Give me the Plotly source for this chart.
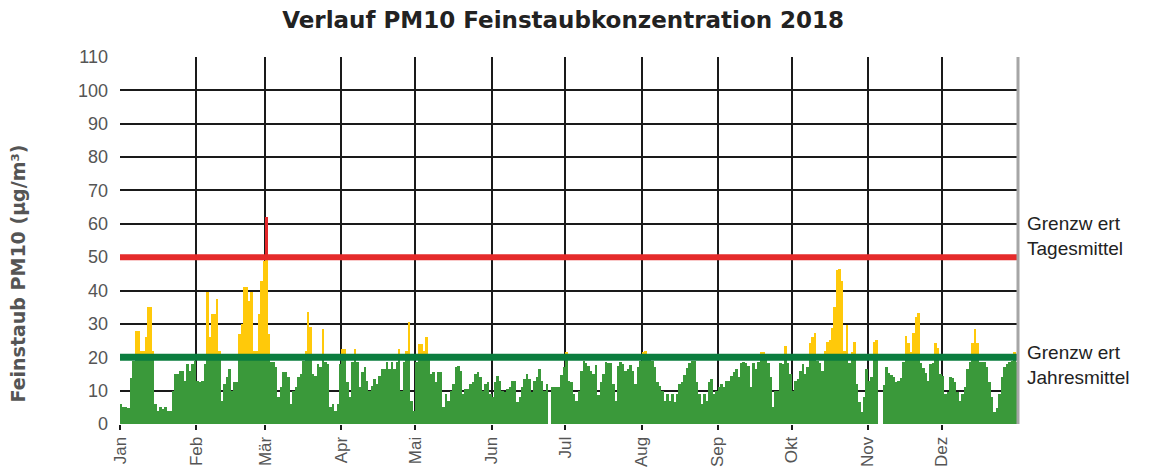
import plotly.graph_objects as go

# Daily PM10 means 2018 (µg/m³), None = no measurement
jan = [6, 5, 5, 4.7, 13.7, 19, 28, 28, 22, 22, 26, 35, 35, 22, 6, 4, 5, 4.5, 5, 4, 4, 10, 15, 15, 16, 16, 13, 18, 16, 18, 19]
feb = [13, 12.5, 13, 18, 39.5, 26, 33, 33, 37.5, 22, 7, 12, 14, 16.5, 10, 12.5, 12.5, 27, 30, 41, 41, 37, 39.5, 22, 22, 33, 43, 49]
mar = [62, 27, 18.5, 18.5, 17, 8, 11, 15.5, 15.5, 14, 6, 10, 11, 14, 15, 19, 22, 33.5, 29, 15, 14.5, 18, 17, 28.5, 18.5, 18, 5, 6, 4, 6, 18]
apr = [22.5, 22.5, 12.7, 8, 18.5, 22.5, 18.5, 11, 15.5, 17, 13, 10, 11.5, 13.5, 12, 14.5, 16.5, 16.5, 18.5, 16.5, 18.5, 16.5, 18.5, 22.5, 10, 18.5, 22, 30.5, 7, 4]
mai = [18.5, 24, 24, 22, 26, 20, 15, 15.5, 12.7, 15.5, 15.5, 5, 9, 7, 10, 12, 17, 17.5, 16, 9, 10.5, 10.5, 12, 12.7, 15, 15.5, 14, 10, 12, 12.7, 9]
jun = [8, 12.7, 14.5, 13, 10, 9.7, 10.5, 11, 13, 13, 6.5, 8, 11, 13.5, 15, 13.5, 9.7, 13, 14, 16.4, 13, 10, 12, None, 11, 11, 11, 11, 14.7, 17]
jul = [21.5, 13, 12.7, 9, 7, 10, 16, 19, 18.4, 17.5, 16, 15, 17.7, 8.7, 12.5, 15, 18.5, 18.3, 18.4, 12, 7, 17.5, 18.5, 18, 16, 16.5, 17.7, 16, 12, 17, 19]
aug = [21.7, 22, 20, 19.5, 19, 17, 12.5, 11.5, 10, 7, 9, 7, 9, 6.7, 9, 12, 12.5, 14.7, 16.7, 18.4, 19, 19, 12.5, 9, 6, 9, 7, 12.5, 13.5, 9, 10]
sep = [11, 12, 11, 13, 13, 14.5, 15.5, 16.5, 14, 18.4, 18.7, 18.4, 17.5, 11, 18.4, 16.5, 18.5, 21.7, 21.7, 20, 18.4, 14, 5, 10, 10, 18.4, 18, 23.4, 18.4, 15]
okt = [10, 13, 13.5, 16, 18, 15, 17, 24.4, 26.2, 27.4, 19, 18.4, 16, 22, 24.5, 25.2, 28.7, 35, 46.2, 46.5, 43, 22, 29.7, 18.4, 21.7, 24.7, 12, 6.7, 3.5, 8, 16.5]
nov = [13, 14, 24.7, 25.2, None, None, 11.7, 17.2, 15.2, 14.7, 14, 12.5, 13, 13.7, 18.7, 26.4, 24.2, 21.7, 27.2, 32.2, 33.4, 18.4, 16.7, 15.2, 13, 18, 18.4, 24.2, 22.7, 15]
dez = [14.5, 9, 9.5, 14, 13.7, 12.5, 9.5, 7, 9, 11, 16.5, 18.5, 24.4, 28.4, 24.4, 18.5, 18.5, 18.5, 17, 12.5, 8, 3.7, 4.7, 9, 14, 17, 18, 18.5, 19, 21.7, 18.5]

month_labels = ["Jan", "Feb", "Mär", "Apr", "Mai", "Jun", "Jul", "Aug", "Sep", "Okt", "Nov", "Dez"]
months = [jan, feb, mar, apr, mai, jun, jul, aug, sep, okt, nov, dez]

GRENZWERT_TAG = 50
GRENZWERT_JAHR = 20

values = [v for m in months for v in m]
days = [i + 0.5 for i in range(len(values))]
month_starts = []
acc = 0
for m in months:
    month_starts.append(acc)
    acc += len(m)
n_days = acc

green = [None if v is None else min(v, GRENZWERT_JAHR) for v in values]
yellow = [None if v is None else max(0, min(v, GRENZWERT_TAG) - GRENZWERT_JAHR) for v in values]
red = [None if v is None else max(0, v - GRENZWERT_TAG) for v in values]

fig = go.Figure()
fig.add_trace(go.Bar(x=days, y=green, marker=dict(color="#3a993a", line=dict(width=0)), width=1.0))
fig.add_trace(go.Bar(x=days, y=yellow, marker=dict(color="#ffc90a", line=dict(width=0)), width=1.0))
fig.add_trace(go.Bar(x=days, y=red, marker=dict(color="#e3262a", line=dict(width=0)), width=1.0))

fig.add_trace(go.Scatter(x=[0, n_days], y=[GRENZWERT_TAG, GRENZWERT_TAG], mode="lines",
                         line=dict(color="#e52b2b", width=6)))
fig.add_trace(go.Scatter(x=[0, n_days], y=[GRENZWERT_JAHR, GRENZWERT_JAHR], mode="lines",
                         line=dict(color="#0b7d3e", width=7)))

font_family = "Liberation Sans, Arial, sans-serif"
bold_family = "DejaVu Sans, Liberation Sans, sans-serif"
fig.update_layout(
    width=1133, height=459,
    barmode="stack", bargap=0, showlegend=False,
    plot_bgcolor="white", paper_bgcolor="white",
    margin=dict(l=112, r=123, t=49, b=43, autoexpand=False),
    font=dict(family=font_family, color="#555555"),
    title=dict(text="<b>Verlauf PM10 Feinstaubkonzentration 2018</b>", x=0.490, xanchor="center",
               y=1 - 12 / 459, yanchor="middle", font=dict(size=23, color="#222222", family=bold_family)),
    xaxis=dict(range=[0, n_days], tickmode="array", tickvals=month_starts, ticktext=month_labels,
               tickangle=-90, showgrid=True, gridcolor="#1a1a1a", gridwidth=2,
               ticks="outside", ticklen=5, tickwidth=2, tickcolor="#1a1a1a",
               tickfont=dict(size=17, color="#555555"), zeroline=False, showline=False,
               automargin=False),
    yaxis=dict(range=[0, 110], tickmode="array", tickvals=list(range(0, 111, 10)),
               showgrid=True, gridcolor="#1a1a1a", gridwidth=2, zeroline=False,
               tickfont=dict(size=18, color="#555555"), ticks="", ticklabelstandoff=11,
               automargin=False),
    shapes=[dict(type="line", xref="paper", yref="paper", x0=1, x1=1, y0=0, y1=1,
                 line=dict(color="#a6a6a6", width=3))],
    annotations=[
        dict(text="<b>Feinstaub PM10 (µg/m³)</b>", xref="paper", x=0, xshift=-102, xanchor="center",
             yref="paper", y=0.41, yanchor="middle", textangle=-90, showarrow=False,
             font=dict(size=19, color="#555555", family=bold_family)),
        dict(text="Grenzw ert<br>Tagesmittel", xref="paper", x=1, xshift=7, xanchor="left",
             yref="y", y=GRENZWERT_TAG + 6.3, yanchor="middle", showarrow=False, align="left",
             font=dict(size=19, color="#222222")),
        dict(text="Grenzw ert<br>Jahresmittel", xref="paper", x=1, xshift=7, xanchor="left",
             yref="y", y=GRENZWERT_JAHR - 2.4, yanchor="middle", showarrow=False, align="left",
             font=dict(size=19, color="#222222")),
    ],
)

fig.write_html("out.html")
